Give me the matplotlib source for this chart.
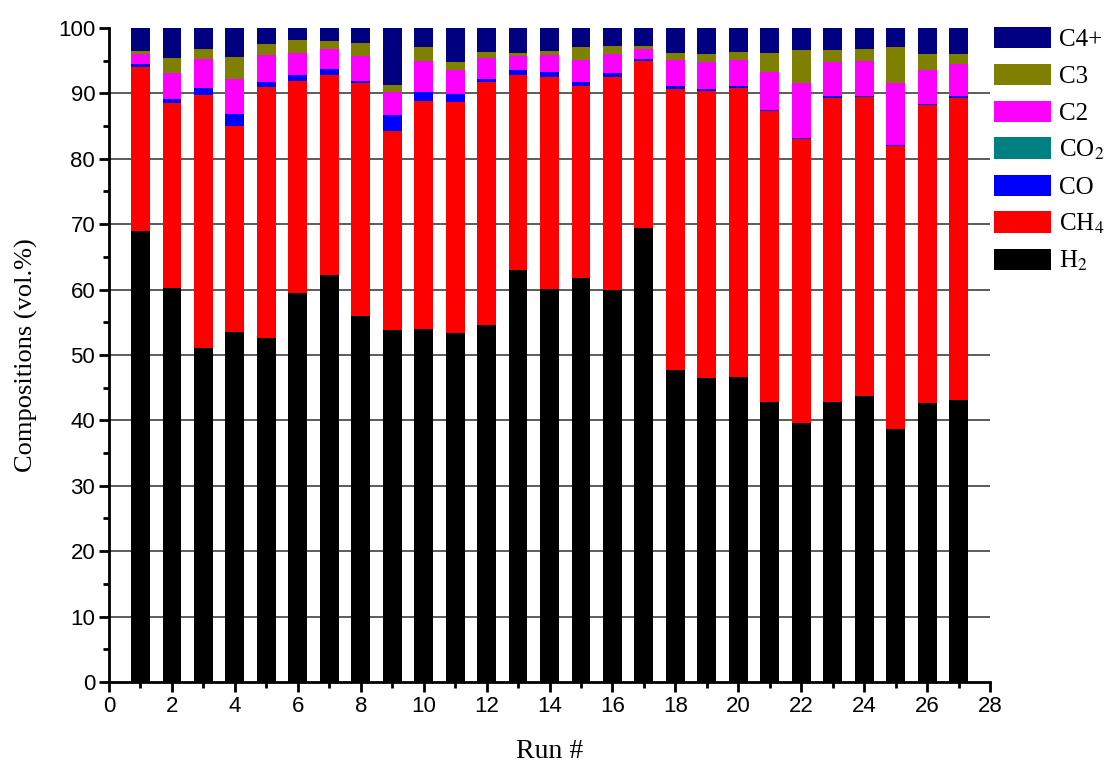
import numpy as np
import matplotlib
matplotlib.use("Agg")
import matplotlib.pyplot as plt
from matplotlib.ticker import MultipleLocator

plt.rcParams['mathtext.fontset'] = 'stix'

runs = np.arange(1, 28)

h2 = [69.0, 60.2, 51.1, 53.5, 52.65, 59.5, 62.2, 55.95, 53.8, 53.9, 53.3, 54.65, 63.0, 60.1,
      61.75, 60.0, 69.4, 47.75, 46.55, 46.7, 42.8, 39.65, 42.8, 43.8, 38.75, 42.65, 43.05]
ch4 = [25.1, 28.4, 38.65, 31.5, 38.3, 32.45, 30.65, 35.6, 30.45, 34.9, 35.4, 37.05, 29.8, 32.4,
       29.45, 32.55, 25.55, 42.9, 43.8, 44.2, 44.5, 43.4, 46.55, 45.6, 43.2, 45.6, 46.3]
co = [0.4, 0.55, 1.15, 1.9, 0.8, 0.85, 0.85, 0.4, 2.45, 1.35, 1.2, 0.45, 0.75, 0.7,
      0.5, 0.5, 0.3, 0.55, 0.3, 0.25, 0.2, 0.2, 0.25, 0.2, 0.15, 0.2, 0.2]
co2 = [0.0] * 27
c2 = [1.6, 4.0, 4.35, 5.35, 4.15, 3.45, 3.05, 3.8, 3.55, 4.8, 3.7, 3.25, 2.15, 2.6,
      3.4, 3.0, 1.5, 3.95, 4.2, 4.0, 5.8, 8.3, 5.25, 5.4, 9.55, 5.2, 5.0]
c3 = [0.35, 2.25, 1.5, 3.3, 1.6, 1.95, 1.25, 2.0, 1.0, 2.1, 1.2, 0.95, 0.55, 0.65,
      2.0, 1.2, 0.5, 1.1, 1.25, 1.2, 2.9, 5.15, 1.8, 1.85, 5.45, 2.4, 1.4]
c4 = [3.5, 4.6, 3.25, 4.5, 2.5, 1.8, 2.0, 2.25, 8.7, 2.95, 5.2, 3.6, 3.7, 3.55,
      2.9, 2.7, 2.75, 3.7, 3.9, 3.65, 3.8, 3.3, 3.35, 3.15, 2.9, 4.0, 4.05]

series = [
    ('H$_2$', h2, '#000000'),
    ('CH$_4$', ch4, '#FF0000'),
    ('CO', co, '#0000FF'),
    ('CO$_2$', co2, '#008080'),
    ('C2', c2, '#FF00FF'),
    ('C3', c3, '#808000'),
    ('C4+', c4, '#000080'),
]

fig = plt.figure(figsize=(11.09, 7.65), dpi=100)
ax = fig.add_axes([0.0983, 0.1085, 0.7944, 0.8549])

bottom = np.zeros(len(runs))
handles = []
for name, vals, col in series:
    vals = np.array(vals)
    b = ax.bar(runs, vals, width=0.6, bottom=bottom, color=col, linewidth=0, label=name, zorder=2)
    handles.append(b)
    bottom += vals

for yv in range(10, 100, 10):
    ax.axhline(yv, color='#404040', lw=1.2, zorder=1)

ax.set_xlim(0, 28)
ax.set_ylim(0, 100)
ax.xaxis.set_major_locator(MultipleLocator(2))
ax.xaxis.set_minor_locator(MultipleLocator(1))
ax.yaxis.set_major_locator(MultipleLocator(10))
ax.yaxis.set_minor_locator(MultipleLocator(5))

for s in ['top', 'right']:
    ax.spines[s].set_visible(False)
for s in ['left', 'bottom']:
    ax.spines[s].set_linewidth(2)

ax.tick_params(which='major', direction='out', length=7, width=2, labelsize=16, pad=3)
ax.tick_params(which='minor', direction='out', length=4, width=2)
for lab in ax.get_xticklabels() + ax.get_yticklabels():
    lab.set_family(['Liberation Sans', 'DejaVu Sans'])

ax.set_xlabel('Run #', fontsize=20, family='Liberation Serif', labelpad=16)
ax.set_ylabel('Compositions (vol.%)', fontsize=19, family='Liberation Serif', labelpad=14)

leg = fig.legend(handles[::-1], [s[0] for s in series][::-1], loc='upper left',
                 bbox_to_anchor=(0.896, 0.965), bbox_transform=fig.transFigure,
                 frameon=False, prop={'family': 'Liberation Serif', 'size': 18},
                 handlelength=2.3, handleheight=0.95, handletextpad=0.3,
                 labelspacing=0.5, borderpad=0, borderaxespad=0)

fig.savefig('out.png', dpi=100)
